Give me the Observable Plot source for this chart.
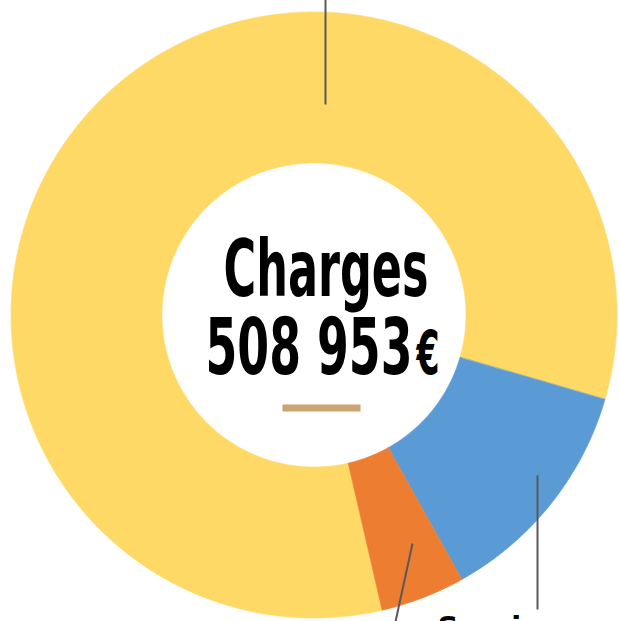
<!DOCTYPE html>
<html><head><meta charset="utf-8">
<script src="https://cdn.jsdelivr.net/npm/d3@7"></script>
<script src="https://cdn.jsdelivr.net/npm/@observablehq/plot@0.6"></script>
<style>html,body{margin:0;padding:0;background:#fff;overflow:hidden}svg{display:block}</style>
</head><body><div id="chart"></div>
<script>
// ---- data ----
const categories = ["Charges de personnel", "Services extérieurs", "Autres charges"];
const amounts = [423000, 63050, 22903];
const sliceColors = ["#FFD966", "#5B9BD5", "#ED7D31"];
const centerTitle = "Charges";
const centerAmount = "508 953";
const currencySign = "€";
const calloutLabel = "Services extérieurs";

// ---- layout (chart units = pixels, centre of the ring at 0,0) ----
const W = 619, H = 621;
const outerR = 303, innerR = 152;
const startDeg = 167;

const pie = d3.pie().sort(null)
  .startAngle(startDeg * Math.PI / 180)
  .endAngle(startDeg * Math.PI / 180 + 2 * Math.PI);
const arcs = pie(amounts);
const ring = [];
arcs.forEach((a, i) => {
  const n = Math.max(8, Math.ceil((a.endAngle - a.startAngle) * 180 / Math.PI * 2));
  for (let k = 0; k <= n; k++) {
    const t = a.startAngle + (a.endAngle - a.startAngle) * k / n;
    ring.push({
      cat: categories[i],
      xi: innerR * Math.sin(t), yi: innerR * Math.cos(t),
      xo: outerR * Math.sin(t), yo: outerR * Math.cos(t)
    });
  }
});

const leaders = [
  {x1: 11, y1: 211, x2: 11, y2: 330},
  {x1: 223, y1: -160, x2: 223, y2: -294},
  {x1: 98, y1: -228, x2: 78, y2: -320}
];

const textSpecs = [
  {text: centerTitle, x: -91, y: 20, size: 78, len: 205},
  {text: centerAmount, x: -109, y: -58, size: 79, len: 207},
  {text: currencySign, x: 102, y: -58, size: 60, len: 23}
];

const marks = [
  Plot.area(ring, {x1: "xi", y1: "yi", x2: "xo", y2: "yo", z: "cat", fill: "cat",
    stroke: "cat", strokeWidth: 0.6}),
  Plot.link(leaders, {x1: "x1", y1: "y1", x2: "x2", y2: "y2", stroke: "#595959", strokeWidth: 2}),
  Plot.link([{a: -32, b: 46, y: -92.5}], {x1: "a", x2: "b", y1: "y", y2: "y", stroke: "#CBA472", strokeWidth: 7})
];
textSpecs.forEach(s => marks.push(Plot.text([s], {
  x: "x", y: "y", text: "text", textAnchor: "start", lineAnchor: "bottom",
  fontSize: s.size, fontWeight: "bold", fontFamily: "DejaVu Sans, sans-serif", fill: "#000"
})));
marks.push(Plot.text([{t: calloutLabel, x: 123, y: -321}], {
  x: "x", y: "y", text: "t", textAnchor: "start", lineAnchor: "bottom",
  fontSize: 29, fontWeight: "bold", fontFamily: "DejaVu Sans, sans-serif", fill: "#000"
}));

const svg = Plot.plot({
  width: W, height: H, margin: 0,
  x: {domain: [-314, 305], axis: null},
  y: {domain: [-306, 315], axis: null},
  color: {domain: categories, range: sliceColors},
  marks
});
document.getElementById("chart").append(svg);

// condense the centre labels to their measured widths
const groups = svg.querySelectorAll('g[aria-label="text"]');
textSpecs.forEach((s, i) => {
  const t = groups[i] && groups[i].querySelector("text");
  if (t) { t.setAttribute("textLength", s.len); t.setAttribute("lengthAdjust", "spacingAndGlyphs"); }
});
</script>
</body></html>
